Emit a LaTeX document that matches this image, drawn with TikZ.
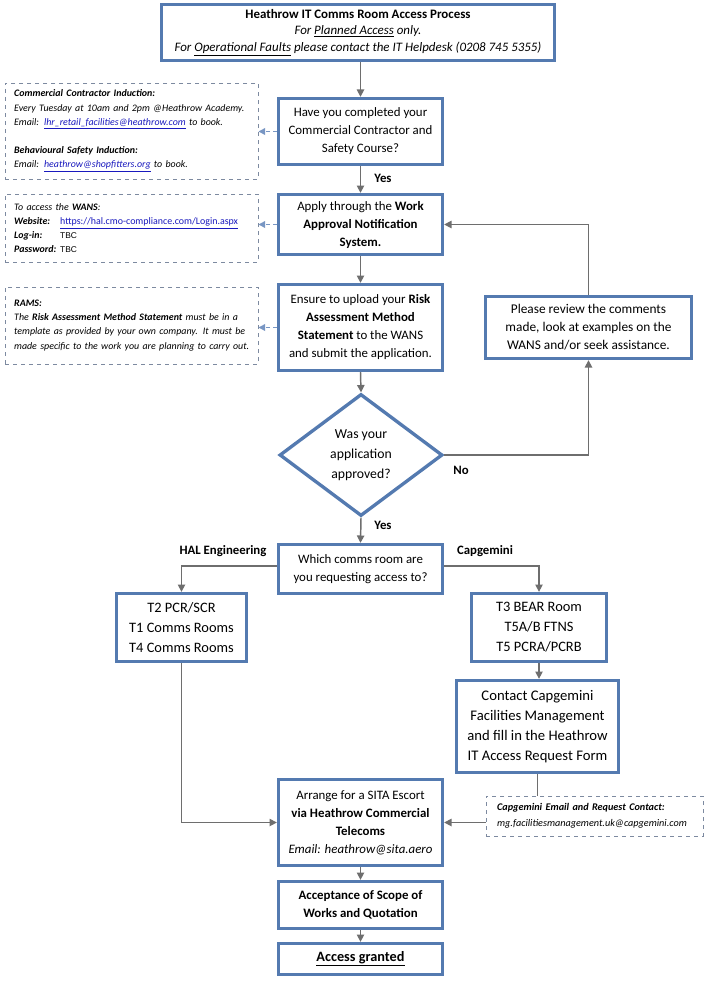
\documentclass[tikz,border=0pt]{standalone}
\usepackage{fontspec}
\setmainfont{Carlito}
\usetikzlibrary{shapes.geometric,arrows.meta,calc}
\definecolor{boxblue}{RGB}{84,122,176}
\definecolor{arrgray}{RGB}{110,110,110}
\definecolor{dashgray}{RGB}{125,138,160}
\definecolor{dasharr}{RGB}{120,150,195}
\definecolor{linkblue}{RGB}{25,25,190}
\newcommand{\lnk}[1]{\textcolor{linkblue}{\underline{#1}}}
\newcommand{\tbcfont}{\fontspec{Liberation Sans}\fontsize{6.3}{10.6}\selectfont}
\begin{document}
\begin{tikzpicture}[x=0.75pt,y=-0.75pt,
  mainbox/.style={draw=boxblue,line width=2.5pt,fill=white,align=center,
    font=\fontsize{9.65}{13.5}\selectfont,inner sep=0pt},
  bigbox/.style={mainbox,font=\fontsize{10.8}{15}\selectfont},
  notebox/.style={draw=dashgray,dashed,line width=0.7pt,fill=white,align=left,
    font=\fontsize{7.45}{10.6}\selectfont,inner sep=0pt},
  arr/.style={draw=arrgray,line width=1.1pt,-{Triangle[length=5.5pt,width=5.5pt]}},
  gline/.style={draw=arrgray,line width=1.1pt},
  darr/.style={draw=dasharr,line width=1pt,dash pattern=on 3pt off 2pt,-{Triangle[length=5pt,width=5pt]}},
  lbl/.style={font=\bfseries\fontsize{9.6}{11}\selectfont,inner sep=0pt}]
\useasboundingbox (0,0) rectangle (710,981);
\fill[white] (0,0) rectangle (710,981);

% main boxes
\node[mainbox,minimum width=294.75pt,minimum height=42pt,font=\fontsize{9.7}{12.4}\selectfont] (title) at (358,32.5)
  {\textbf{Heathrow IT Comms Room Access Process}\\
   \textit{For \underline{Planned Access} only.}\\
   \textit{For \underline{Operational Faults} please contact the IT Helpdesk (0208 745 5355)}};
\node[mainbox,minimum width=123pt,minimum height=49.5pt] (box1) at (360.5,131.5)
  {Have you completed your\\ Commercial Contractor and\\ Safety Course?};
\node[mainbox,minimum width=123pt,minimum height=45pt] (box2) at (360.5,224.5)
  {Apply through the \textbf{Work}\\ \textbf{Approval Notification}\\ \textbf{System.}};
\node[mainbox,minimum width=123pt,minimum height=64.5pt] (box3) at (360.5,327.5)
  {Ensure to upload your \textbf{Risk}\\ \textbf{Assessment Method}\\ \textbf{Statement} to the WANS\\ and submit the application.};
\node[mainbox,minimum width=154.5pt,minimum height=46.5pt,font=\fontsize{10}{13.5}\selectfont] (review) at (588.5,327.5)
  {Please review the comments\\ made, look at examples on the\\ WANS and/or seek assistance.};
\node[draw=boxblue,line width=2.5pt,fill=white,diamond,aspect=1.33,inner sep=0pt,
  minimum width=122.25pt,minimum height=91.5pt,align=center,
  font=\fontsize{10.3}{15}\selectfont] (dia) at (361,455)
  {Was your\\ application\\ approved?};
\node[mainbox,minimum width=123pt,minimum height=36.75pt] (which) at (360.5,569)
  {Which comms room are\\ you requesting access to?};
\node[bigbox,minimum width=97.5pt,minimum height=51pt] (t2) at (181.5,627.5)
  {T2 PCR/SCR\\ T1 Comms Rooms\\ T4 Comms Rooms};
\node[bigbox,minimum width=101.25pt,minimum height=51pt] (t3) at (539,627.5)
  {T3 BEAR Room\\ T5A/B FTNS\\ T5 PCRA/PCRB};
\node[bigbox,minimum width=121.5pt,minimum height=69pt,font=\fontsize{11}{15}\selectfont] (contact) at (537.5,726.5)
  {Contact Capgemini\\ Facilities Management\\ and fill in the Heathrow\\ IT Access Request Form};
\node[mainbox,minimum width=123pt,minimum height=64.5pt] (arrange) at (360.5,822.5)
  {Arrange for a SITA Escort\\ \textbf{via Heathrow Commercial}\\ \textbf{Telecoms}\\ \textit{Email: heathrow@sita.aero}};
\node[mainbox,minimum width=123pt,minimum height=35.25pt] (accept) at (360.5,905)
  {\textbf{Acceptance of Scope of}\\ \textbf{Works and Quotation}};
\node[mainbox,minimum width=123pt,minimum height=23.25pt,font=\fontsize{10.7}{13.5}\selectfont] (access) at (360.5,959)
  {\textbf{\underline{Access granted}}};

% note boxes
\node[notebox,minimum width=189.75pt,minimum height=72pt,text width=176pt] (db1) at (131.5,131)
  {\mbox{\textbf{\textit{Commercial Contractor Induction:}}}\\
   \mbox{\textit{Every Tuesday at 10am and 2pm @Heathrow Academy.}}\\
   \mbox{\textit{Email: \lnk{lhr\_retail\_facilities@heathrow.com} to book.}}\\[10.6pt]
   \mbox{\textbf{\textit{Behavioural Safety Induction:}}}\\
   \mbox{\textit{Email: \lnk{heathrow@shopfitters.org} to book.}}};
\node[notebox,minimum width=189.75pt,minimum height=51pt,text width=176pt] (db2) at (131.5,228)
  {\mbox{\textit{To access the \textbf{WANS}:}}\\
   \mbox{\makebox[34.5pt][l]{\textbf{\textit{Website:}}}\lnk{https://hal.cmo-compliance.com/Login.aspx}}\\
   \mbox{\makebox[34.5pt][l]{\textbf{\textit{Log-in:}}}{\tbcfont TBC}}\\
   \mbox{\makebox[34.5pt][l]{\textbf{\textit{Password:}}}{\tbcfont TBC}}};
\node[notebox,minimum width=189.75pt,minimum height=57.75pt,text width=176pt] (db3) at (131.5,325.5)
  {\mbox{\textbf{\textit{RAMS:}}}\\
   \mbox{\textit{The \textbf{Risk Assessment Method Statement} must be in a}}\\
   \mbox{\textit{template as provided by your own company. It must be}}\\
   \mbox{\textit{made specific to the work you are planning to carry out.}}};
\node[notebox,minimum width=162.75pt,minimum height=30pt,text width=146pt,font=\fontsize{7.65}{11.6}\selectfont] (db4) at (594.5,816)
  {\mbox{\textbf{\textit{Capgemini Email and Request Contact:}}}\\
   \mbox{\textit{mg.facilitiesmanagement.uk@capgemini.com}}};

% labels
\node[lbl] (yes1) at (383,178) {Yes};
\node[lbl] (no) at (461,470) {No};
\node[lbl] (yes2) at (383,525) {Yes};
\node[lbl] (hal) at (223,551) {HAL Engineering};
\node[lbl] (cap) at (485,551) {Capgemini};

% connectors
\draw[arr] (title.south -| box1.north) -- (box1.north);
\draw[arr] (box1) -- (box2);
\draw[arr] (box2) -- (box3);
\draw[arr] (box3.south) -- (dia.north);
\draw[arr] (dia.south) -- (which.north);
\draw[arr] (dia.east) -| (review.south);
\draw[arr] (review.north) |- (box2.east);
\draw[arr] ([yshift=2.25pt]which.west) -| (t2.north);
\draw[arr] ([yshift=2.25pt]which.east) -| (t3.north);
\draw[arr] (t3.south) -- (t3.south |- contact.north);
\draw[arr] (t2.south) |- (arrange.west);
\draw[gline] (contact.south) -- (contact.south |- db4.north);
\draw[arr] (arrange.east -| db4.west) -- (arrange.east);
\draw[arr] (arrange) -- (accept);
\draw[arr] (accept) -- (access);
\draw[darr] (box1.west) -- (box1.west -| db1.east);
\draw[darr] (box2.west) -- (box2.west -| db2.east);
\draw[darr] (box3.west) -- (box3.west -| db3.east);
\end{tikzpicture}
\end{document}
